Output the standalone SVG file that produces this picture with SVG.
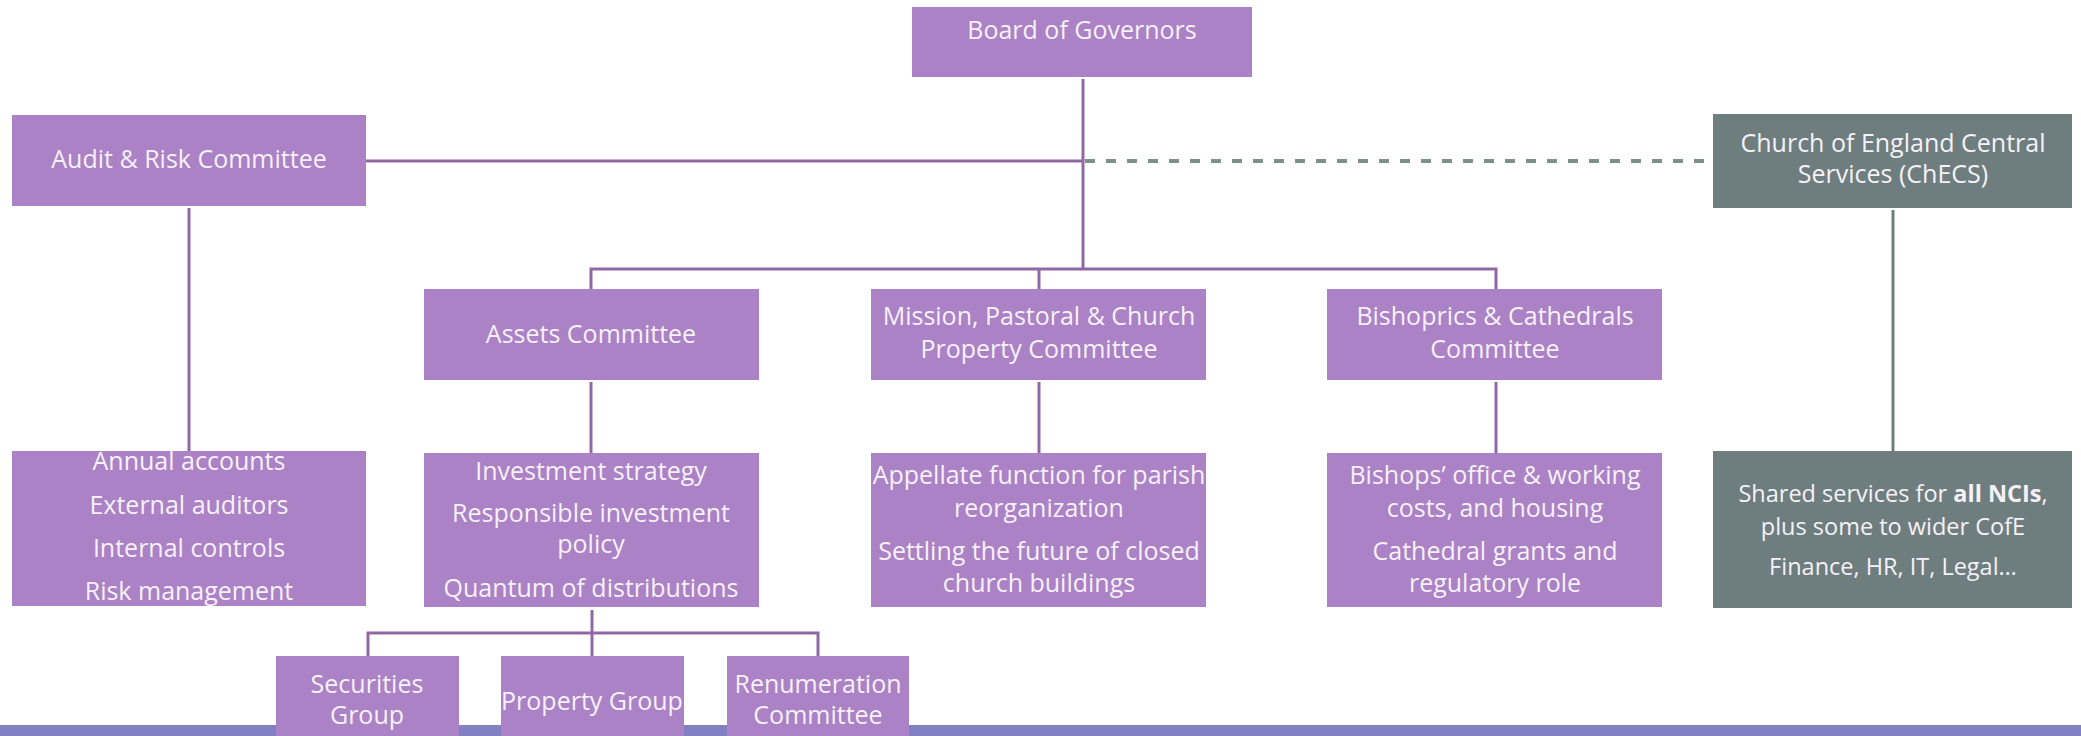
<svg xmlns="http://www.w3.org/2000/svg" width="2081" height="736" viewBox="0 0 2081 736">
<style>
.box{fill:#ab82c5}
.grey{fill:#6e7e7e}
.t{font-family:"Open Sans","Liberation Sans",sans-serif;font-size:25px;fill:#f6f1f8;text-anchor:middle}
.s{font-size:23.5px}
.ln{stroke:#9068a4;stroke-width:3;fill:none}
.lg{stroke:#6e7e7e;stroke-width:3;fill:none}
.dash{stroke:#7e8f88;stroke-width:4;fill:none;stroke-dasharray:10 11}
</style>
<rect x="0" y="725" width="2081" height="11" fill="#8080c2"/>
<g id="connectors">
<line class="ln" x1="366" y1="161" x2="1083" y2="161"/>
<line class="dash" x1="1085" y1="161" x2="1713" y2="161"/>
<line class="ln" x1="1083" y1="79" x2="1083" y2="269"/>
<polyline class="ln" points="591,289 591,269 1496,269 1496,289"/>
<line class="ln" x1="1039" y1="269" x2="1039" y2="289"/>
<line class="ln" x1="189" y1="208" x2="189" y2="451"/>
<line class="ln" x1="591" y1="382" x2="591" y2="453"/>
<line class="ln" x1="1039" y1="382" x2="1039" y2="453"/>
<line class="ln" x1="1496" y1="382" x2="1496" y2="453"/>
<line class="lg" x1="1893" y1="210" x2="1893" y2="451"/>
<line class="ln" x1="592" y1="610" x2="592" y2="656"/>
<polyline class="ln" points="368,656 368,633 818,633 818,656"/>
</g>
<g id="board">
<rect class="box" x="912" y="7" width="340" height="70"/>
<text class="t" x="1082" y="39">Board of Governors</text>
</g>
<g id="audit">
<rect class="box" x="12" y="115" width="354" height="91"/>
<text class="t" x="189" y="168">Audit &amp; Risk Committee</text>
</g>
<g id="checs">
<rect class="grey" x="1713" y="114" width="359" height="94"/>
<text class="t" x="1893" y="152">Church of England Central</text>
<text class="t" x="1893" y="183">Services (ChECS)</text>
</g>
<g id="assets">
<rect class="box" x="424" y="289" width="335" height="91"/>
<text class="t" x="591" y="343">Assets Committee</text>
</g>
<g id="mission">
<rect class="box" x="871" y="289" width="335" height="91"/>
<text class="t" x="1039" y="325">Mission, Pastoral &amp; Church</text>
<text class="t" x="1039" y="358">Property Committee</text>
</g>
<g id="bishoprics">
<rect class="box" x="1327" y="289" width="335" height="91"/>
<text class="t" x="1495" y="325">Bishoprics &amp; Cathedrals</text>
<text class="t" x="1495" y="358">Committee</text>
</g>
<g id="audit-remit">
<rect class="box" x="12" y="451" width="354" height="155"/>
<text class="t" x="189" y="470">Annual accounts</text>
<text class="t" x="189" y="514">External auditors</text>
<text class="t" x="189" y="557">Internal controls</text>
<text class="t" x="189" y="600">Risk management</text>
</g>
<g id="assets-remit">
<rect class="box" x="424" y="453" width="335" height="154"/>
<text class="t" x="591" y="480">Investment strategy</text>
<text class="t" x="591" y="522">Responsible investment</text>
<text class="t" x="591" y="553">policy</text>
<text class="t" x="591" y="597">Quantum of distributions</text>
</g>
<g id="mission-remit">
<rect class="box" x="871" y="453" width="335" height="154"/>
<text class="t" x="1039" y="484">Appellate function for parish</text>
<text class="t" x="1039" y="517">reorganization</text>
<text class="t" x="1039" y="560">Settling the future of closed</text>
<text class="t" x="1039" y="592">church buildings</text>
</g>
<g id="bishoprics-remit">
<rect class="box" x="1327" y="453" width="335" height="154"/>
<text class="t" x="1495" y="484">Bishops’ office &amp; working</text>
<text class="t" x="1495" y="517">costs, and housing</text>
<text class="t" x="1495" y="560">Cathedral grants and</text>
<text class="t" x="1495" y="592">regulatory role</text>
</g>
<g id="checs-remit">
<rect class="grey" x="1713" y="451" width="359" height="157"/>
<text class="t s" x="1893" y="502">Shared services for <tspan font-weight="bold">all NCIs</tspan>,</text>
<text class="t s" x="1893" y="535">plus some to wider CofE</text>
<text class="t s" x="1893" y="575">Finance, HR, IT, Legal…</text>
</g>
<g id="securities">
<rect class="box" x="276" y="656" width="183" height="80"/>
<text class="t" x="367" y="693">Securities</text>
<text class="t" x="367" y="724">Group</text>
</g>
<g id="property">
<rect class="box" x="501" y="656" width="183" height="80"/>
<text class="t" x="592" y="710">Property Group</text>
</g>
<g id="renumeration">
<rect class="box" x="727" y="656" width="182" height="80"/>
<text class="t" x="818" y="693">Renumeration</text>
<text class="t" x="818" y="724">Committee</text>
</g>
</svg>
